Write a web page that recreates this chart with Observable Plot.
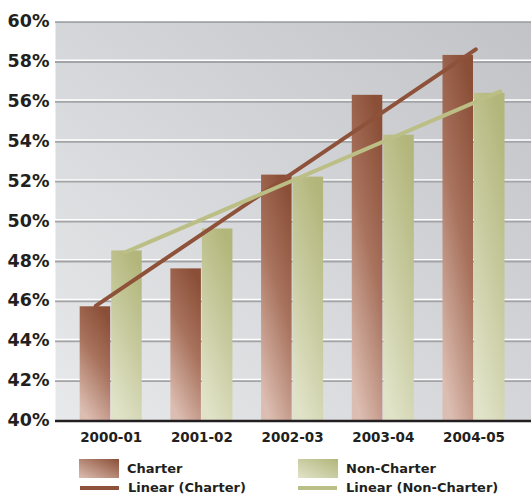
<!DOCTYPE html>
<html>
<head>
<meta charset="utf-8">
<script src="https://cdn.jsdelivr.net/npm/d3@7"></script>
<script src="https://cdn.jsdelivr.net/npm/@observablehq/plot@0.6"></script>
<style>
  html, body { margin: 0; padding: 0; background: #fff; }
  #wrap { position: relative; width: 531px; height: 497px; overflow: hidden; font-family: "DejaVu Sans", sans-serif; font-weight: 700; color: #231f20; }
  #chart svg { display: block; }
  .lg { position: absolute; display: flex; align-items: center; font-size: 13px; line-height: 16px; white-space: nowrap; }
  .sw { width: 40px; height: 19px; margin-right: 8px; }
  .ln { width: 39px; height: 4px; margin-right: 9px; }
</style>
</head>
<body>
<div id="wrap">
  <div id="chart"></div>
</div>
<script>
// ---- data ----
const years = ["2000-01", "2001-02", "2002-03", "2003-04", "2004-05"];
const charter = [45.7, 47.6, 52.3, 56.3, 58.3];
const nonCharter = [48.5, 49.6, 52.2, 54.3, 56.4];
// trend line endpoints: [category position, value]
const charterTrend = [[-0.17, 45.75], [4.02, 58.6]];
const nonCharterTrend = [[0.14, 48.4], [4.29, 56.5]];
const yTicks = [40, 42, 44, 46, 48, 50, 52, 54, 56, 58, 60];

// ---- styles ----
const barHalf = 0.342;
const colors = {
  charterTop: "#8b4f37", charterMid: "#a8725d", charterBottom: "#dcbdb1",
  ncTop: "#b2b67a", ncMid: "#c6c99c", ncBottom: "#e1e3c9",
  charterLine: "#8e5139", ncLine: "#bcbf85",
  text: "#231f20"
};

const rows = years.map((y, i) => ({year: y, i, charter: charter[i], nonCharter: nonCharter[i]}));
const cTrend = charterTrend.map(([x, v]) => ({x, v}));
const nTrend = nonCharterTrend.map(([x, v]) => ({x, v}));

const defs = () => {
  const d = d3.create("svg:defs");
  const bg = d.append("linearGradient").attr("id", "bgGrad")
    .attr("x1", "1").attr("y1", "0").attr("x2", "0").attr("y2", "1");
  bg.append("stop").attr("offset", "0%").attr("stop-color", "#c2c3c7");
  bg.append("stop").attr("offset", "100%").attr("stop-color", "#e8e9eb");
  const g1 = d.append("linearGradient").attr("id", "charterGrad")
    .attr("x1", "0.7").attr("y1", "0").attr("x2", "0.3").attr("y2", "1");
  g1.append("stop").attr("offset", "0%").attr("stop-color", colors.charterTop);
  g1.append("stop").attr("offset", "45%").attr("stop-color", colors.charterMid);
  g1.append("stop").attr("offset", "100%").attr("stop-color", colors.charterBottom);
  const g2 = d.append("linearGradient").attr("id", "ncGrad")
    .attr("x1", "0.7").attr("y1", "0").attr("x2", "0.3").attr("y2", "1");
  g2.append("stop").attr("offset", "0%").attr("stop-color", colors.ncTop);
  g2.append("stop").attr("offset", "45%").attr("stop-color", colors.ncMid);
  g2.append("stop").attr("offset", "100%").attr("stop-color", colors.ncBottom);
  return d.node();
};

const chart = Plot.plot({
  width: 531,
  height: 452,
  marginLeft: 55,
  marginRight: 0,
  marginTop: 21,
  marginBottom: 32,
  style: {fontFamily: "'DejaVu Sans', sans-serif", fontWeight: 700, color: colors.text, background: "#fff", overflow: "visible"},
  x: {domain: [-0.614, 4.634], axis: null},
  y: {domain: [40, 60], axis: null},
  marks: [
    defs,
    Plot.frame({fill: "url(#bgGrad)", stroke: null}),
    Plot.ruleY(yTicks.filter(t => t > 40), {stroke: "#ffffff", strokeWidth: 1.5, dy: -1.2}),
    Plot.ruleY(yTicks.filter(t => t > 40), {stroke: "#a3a4a8", strokeWidth: 1.8, dy: 0.6}),
    Plot.rectY(rows, {x1: d => d.i - barHalf, x2: d => d.i, y1: 40, y2: "charter", fill: "url(#charterGrad)", insetRight: 0.5}),
    Plot.rectY(rows, {x1: d => d.i, x2: d => d.i + barHalf, y1: 40, y2: "nonCharter", fill: "url(#ncGrad)", insetLeft: 0.5}),
    Plot.line(cTrend, {x: "x", y: "v", stroke: colors.charterLine, strokeWidth: 4}),
    Plot.line(nTrend, {x: "x", y: "v", stroke: colors.ncLine, strokeWidth: 4}),
    Plot.ruleY([40], {stroke: colors.text, strokeWidth: 2.4, dy: 0.5}),
    Plot.axisY({ticks: yTicks, tickFormat: d => d + "%", tickSize: 0, tickPadding: 6, fontSize: 17.5, fontWeight: 700, fill: colors.text, label: null}),
    Plot.axisX({ticks: years.map((_, i) => i), tickFormat: i => years[i], tickSize: 0, tickPadding: 12, fontSize: 13.5, fontWeight: 700, fill: colors.text, label: null})
  ]
});
document.getElementById("chart").append(chart);

// ---- legend ----
const wrap = document.getElementById("wrap");
const legendItems = [
  {label: "Charter", kind: "sw", bg: `linear-gradient(to bottom left, ${colors.charterTop}, ${colors.charterBottom})`, left: 79, top: 459},
  {label: "Linear (Charter)", kind: "ln", bg: colors.charterLine, left: 80, top: 480},
  {label: "Non-Charter", kind: "sw", bg: `linear-gradient(to bottom left, ${colors.ncTop}, ${colors.ncBottom})`, left: 298, top: 459},
  {label: "Linear (Non-Charter)", kind: "ln", bg: colors.ncLine, left: 298, top: 480}
];
legendItems.forEach(it => {
  const div = document.createElement("div");
  div.className = "lg";
  div.style.left = it.left + "px";
  div.style.top = it.top + "px";
  div.style.height = it.kind === "sw" ? "19px" : "16px";
  const s = document.createElement("div");
  s.className = it.kind;
  s.style.background = it.bg;
  const t = document.createElement("span");
  t.textContent = it.label;
  div.append(s, t);
  wrap.append(div);
});
</script>
</body>
</html>
